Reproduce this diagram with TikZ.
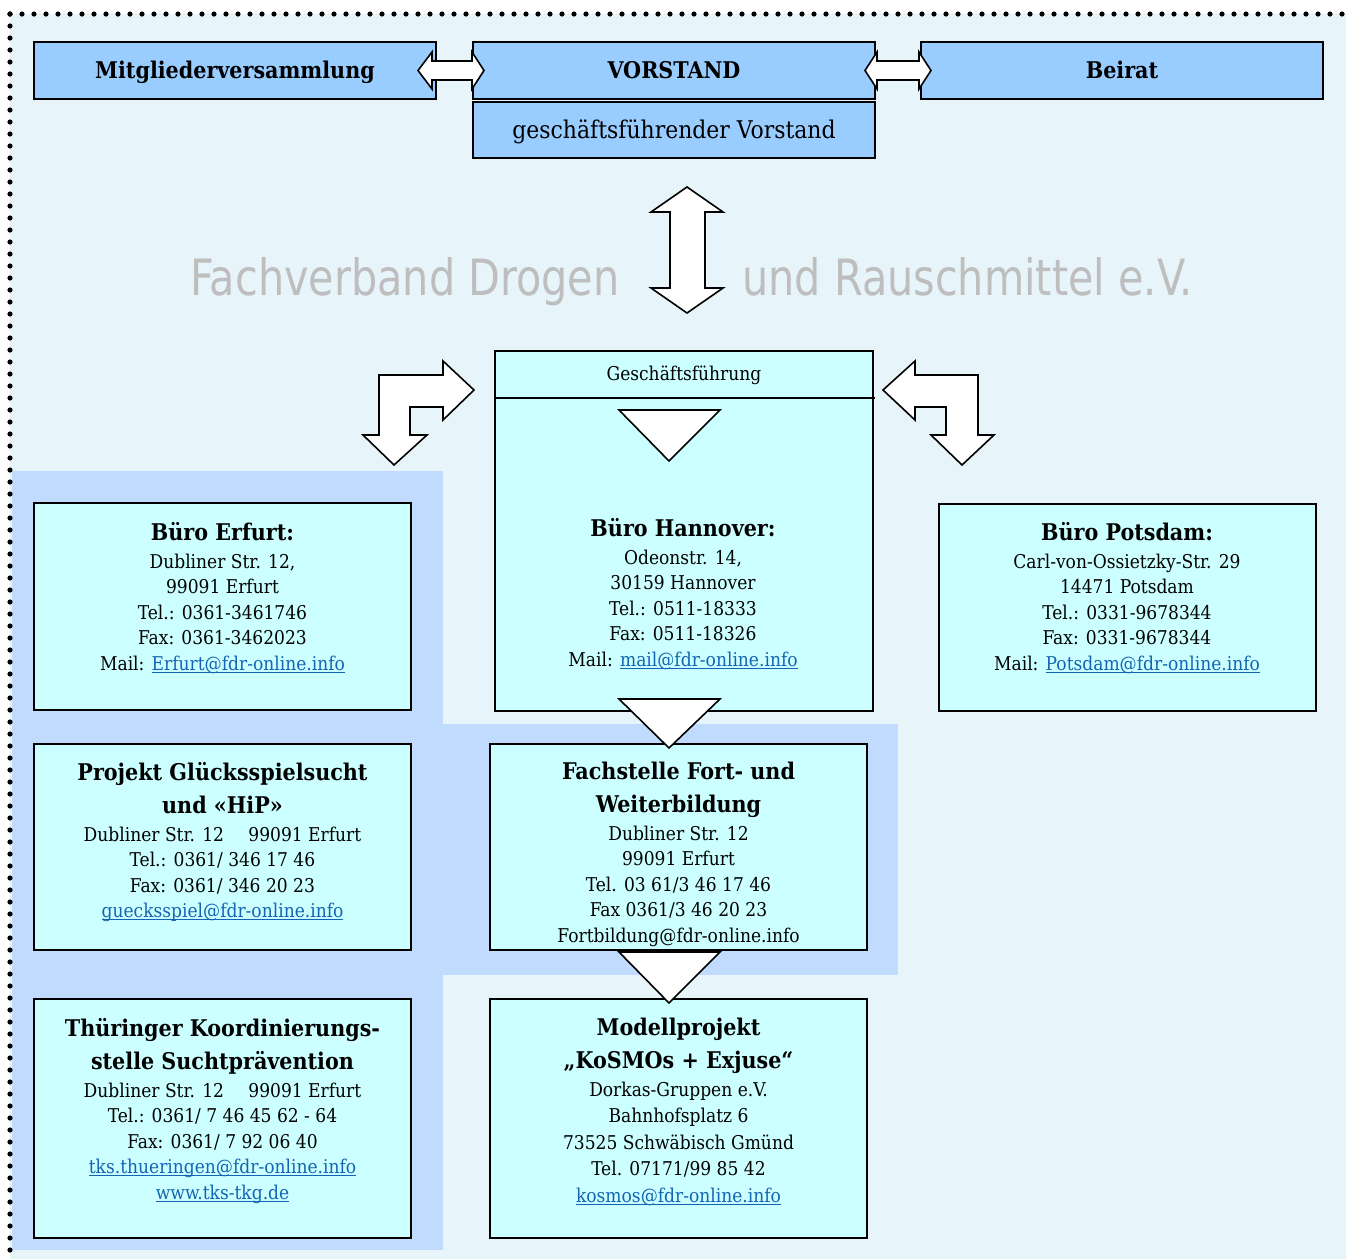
\documentclass[tikz,border=0pt]{standalone}
\usepackage{fontspec}
\IfFontExistsTF{DejaVu Serif Condensed}{\setmainfont{DejaVu Serif Condensed}}{\setmainfont{DejaVu Serif}}
\IfFontExistsTF{DejaVu Sans Condensed}{\newfontfamily\bannerfont{DejaVu Sans Condensed}}{\newfontfamily\bannerfont{DejaVu Sans}}
\usetikzlibrary{positioning}

\definecolor{bgblue}{RGB}{231,244,250}
\definecolor{panelblue}{RGB}{192,219,254}
\definecolor{topblue}{RGB}{153,204,255}
\definecolor{boxcyan}{RGB}{204,255,255}
\definecolor{linkblue}{RGB}{20,100,180}
\definecolor{bannergray}{RGB}{190,190,190}

\newcommand{\boxtitle}[1]{{\fontsize{11.5}{16.5}\selectfont\bfseries #1}}
\newcommand{\maillink}[1]{\textcolor{linkblue}{\setbox0\hbox{#1}\rlap{\rule[-1.4pt]{\wd0}{0.5pt}}\box0}}

\tikzset{
  dotline/.style={line width=2.6pt, dash pattern=on 0pt off 6pt, line cap=round},
  topbox/.style={draw, line width=1pt, fill=topblue, inner sep=0pt,
    minimum width=201pt, minimum height=28.5pt},
  orgbox/.style={draw, line width=1pt, fill=boxcyan, inner sep=0pt,
    minimum width=188.5pt},
  toplabel/.style={anchor=base, inner sep=0pt, font=\fontsize{11.5}{14}\selectfont\bfseries},
  infotext/.style={anchor=north, align=center, inner sep=0pt,
    font=\fontsize{9.5}{12.75}\selectfont},
  blockarrow/.style={draw, line width=0.8pt, fill=white, line join=miter},
  banner/.style={anchor=base, inner sep=0pt, text=bannergray,
    font=\bannerfont\fontsize{25}{30}\selectfont},
}

\begin{document}
\begin{tikzpicture}[x=0.5pt, y=-0.5pt]
\useasboundingbox (0,0) rectangle (1346,1259);
%% background and panels
\fill[bgblue] (10,14) rectangle (1346,1259);
\fill[panelblue] (12,471) rectangle (443,1250);
\fill[panelblue] (443,724) rectangle (898,975);
\draw[dotline] (10,14) -- (1346,14);
\draw[dotline] (10,14) -- (10,1259);

%% top row
\node[topbox] (mv) at (235,70.5) {};
\node[topbox] (vs) at (674,70.5) {};
\node[topbox, minimum height=28pt] (gfv) at (674,130) {};
\node[topbox] (br) at (1122,70.5) {};
\node[toplabel] (mvlabel) at (235,78) {Mitgliederversammlung};
\node[toplabel] (vslabel) at (674,78) {VORSTAND};
\node[toplabel] (brlabel) at (1122,78) {Beirat};
\node[toplabel, font=\fontsize{12.2}{14}\selectfont] (gfvlabel) at (674,138) {geschäftsführender Vorstand};

%% double arrows between the top boxes
\draw[blockarrow] (418,70.5) -- (432,52) -- (432,61) -- (472,61) -- (472,52) -- (484,70.5)
  -- (472,89) -- (472,80) -- (432,80) -- (432,89) -- cycle;
\draw[blockarrow] (865,70.5) -- (877,52) -- (877,61) -- (919,61) -- (919,52) -- (931,70.5)
  -- (919,89) -- (919,80) -- (877,80) -- (877,89) -- cycle;

%% banner with vertical arrow
\node[banner, anchor=base east] (fdrleft) at (620,295) {\scalebox{0.92}[1]{Fachverband Drogen}};
\node[banner, anchor=base west] (fdrright) at (742,295) {\scalebox{0.92}[1]{und Rauschmittel e.V.}};
\draw[blockarrow] (687,187) -- (723,212) -- (705,212) -- (705,288) -- (723,288) -- (687,313)
  -- (651,288) -- (670,288) -- (670,212) -- (651,212) -- cycle;

%% offices
\node[orgbox, minimum height=103.5pt] (erfurt) at (222.5,606.5) {};
\node[orgbox, minimum height=180pt, minimum width=189pt] (gf) at (684,531) {};
\draw[line width=1pt] (495,398) -- (875,398);
\node[orgbox, minimum height=103.5pt] (potsdam) at (1127,607.5) {};
\node[orgbox, minimum height=103pt] (gluecks) at (222.5,847) {};
\node[orgbox, minimum height=103pt] (fachstelle) at (678.5,847) {};
\node[orgbox, minimum height=119.5pt] (tks) at (222.5,1118.5) {};
\node[orgbox, minimum height=119.5pt] (kosmos) at (678.5,1118.5) {};

\node[anchor=base, inner sep=0pt, font=\fontsize{9.5}{12}\selectfont] (gflabel) at (684,380) {Geschäftsführung};

\node[infotext] (erfurttext) at (222.5,522) {\boxtitle{Büro Erfurt:}\\[1pt]
  Dubliner Str. 12,\\ 99091 Erfurt\\ Tel.: 0361-3461746\\ Fax: 0361-3462023\\
  Mail: \maillink{Erfurt@fdr-online.info}};
\node[infotext] (gftext) at (683,518) {\boxtitle{Büro Hannover:}\\[1pt]
  Odeonstr. 14,\\ 30159 Hannover\\ Tel.: 0511-18333\\ Fax: 0511-18326\\
  Mail: \maillink{mail@fdr-online.info}};
\node[infotext] (potsdamtext) at (1127,522) {\boxtitle{Büro Potsdam:}\\[1pt]
  Carl-von-Ossietzky-Str. 29\\ 14471 Potsdam\\ Tel.: 0331-9678344\\ Fax: 0331-9678344\\
  Mail: \maillink{Potsdam@fdr-online.info}};
\node[infotext] (glueckstext) at (222.5,762) {\boxtitle{Projekt Glücksspielsucht}\\[3.75pt]
  \boxtitle{und «HiP»}\\[1pt]
  Dubliner Str. 12\quad\ 99091 Erfurt\\ Tel.: 0361/ 346 17 46\\ Fax: 0361/ 346 20 23\\
  \maillink{guecksspiel@fdr-online.info}};
\node[infotext] (fachstelletext) at (678.5,762) {\boxtitle{Fachstelle Fort- und}\\[3.75pt]
  \boxtitle{Weiterbildung}\\[1pt]
  Dubliner Str. 12\\ 99091 Erfurt\\ Tel. 03 61/3 46 17 46\\ Fax 0361/3 46 20 23\\
  Fortbildung@fdr-online.info};
\node[infotext] (tkstext) at (222.5,1018) {\boxtitle{Thüringer Koordinierungs-}\\[3.75pt]
  \boxtitle{stelle Suchtprävention}\\[1pt]
  Dubliner Str. 12\quad\ 99091 Erfurt\\ Tel.: 0361/ 7 46 45 62 - 64\\ Fax: 0361/ 7 92 06 40\\
  \maillink{tks.thueringen@fdr-online.info}\\ \maillink{www.tks-tkg.de}};
\node[infotext, font=\fontsize{9.5}{13.2}\selectfont] (kosmostext) at (678.5,1018) {\boxtitle{Modellprojekt}\\[3.3pt]
  \boxtitle{„KoSMOs + Exjuse“}\\[0.6pt]
  Dorkas-Gruppen e.V.\\ Bahnhofsplatz 6\\ 73525 Schwäbisch Gmünd\\ Tel. 07171/99 85 42\\
  \maillink{kosmos@fdr-online.info}};

%% bent arrows to the branch offices
\draw[blockarrow] (379,375) -- (443,375) -- (443,361) -- (474,390) -- (443,420) -- (443,407)
  -- (410,407) -- (410,435) -- (427,435) -- (394,465) -- (363,435) -- (379,435) -- cycle;
\draw[blockarrow] (883,390) -- (915,361) -- (915,375) -- (978,375) -- (978,435) -- (994,435)
  -- (962,465) -- (931,435) -- (946,435) -- (946,407) -- (915,407) -- (915,420) -- cycle;

%% triangles down the middle column
\draw[blockarrow] (619,410) -- (720,410) -- (669,461) -- cycle;
\draw[blockarrow] (619,699) -- (720,699) -- (669,748) -- cycle;
\draw[blockarrow] (619,952) -- (720,952) -- (669,1003) -- cycle;
\end{tikzpicture}
\end{document}
